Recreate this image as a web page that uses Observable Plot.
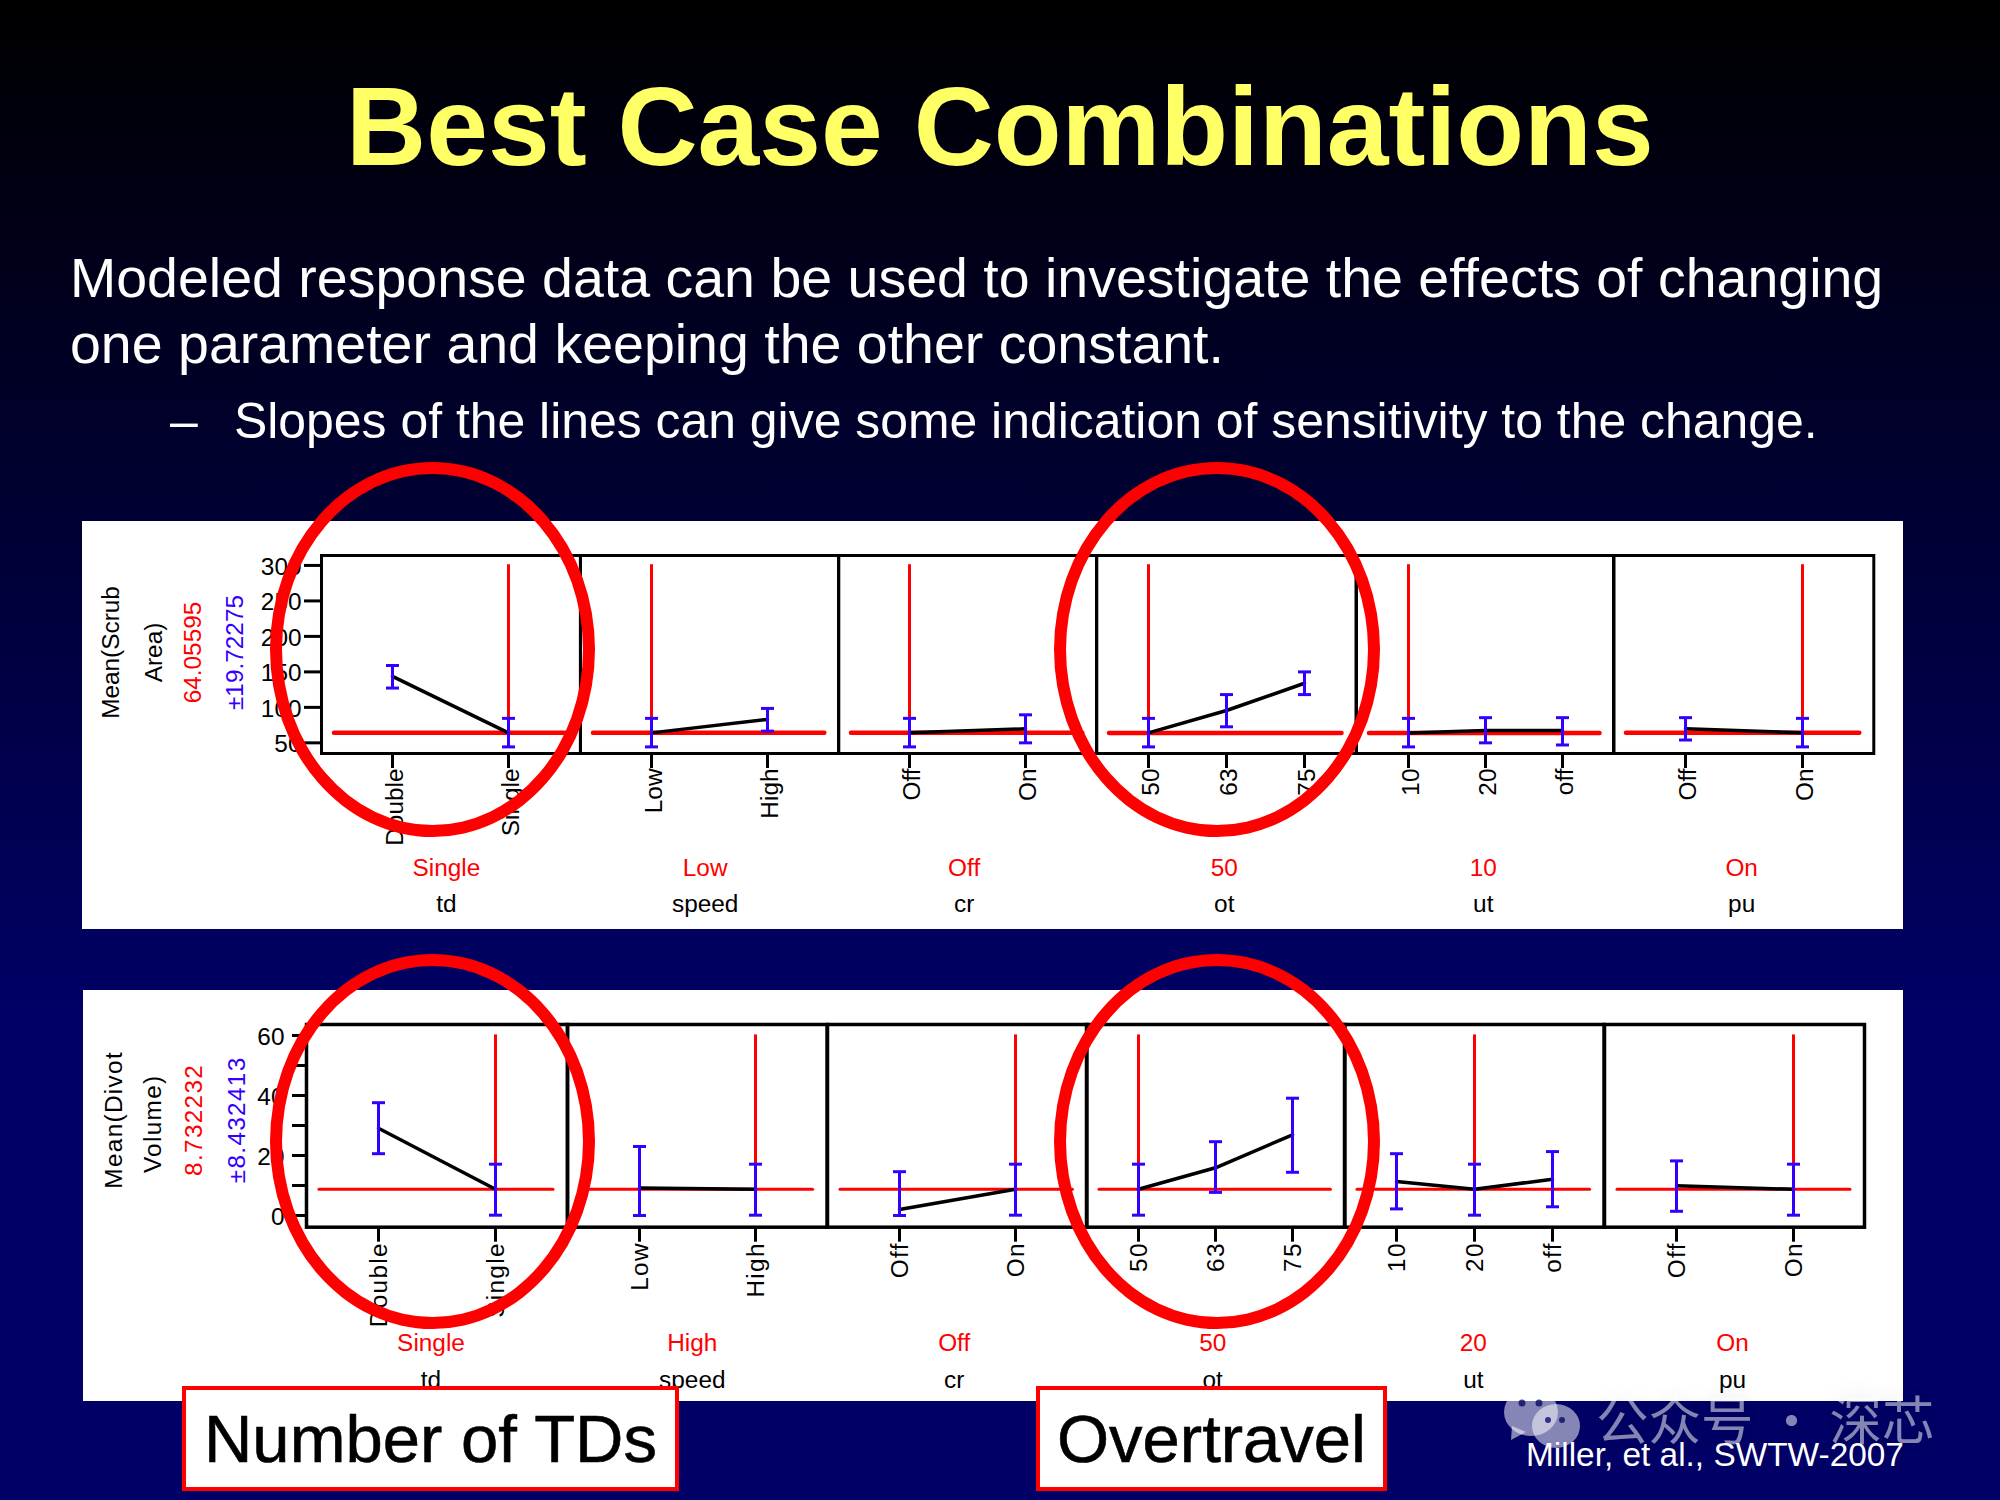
<!DOCTYPE html>
<html>
<head>
<meta charset="utf-8">
<script src="https://cdn.jsdelivr.net/npm/d3@7"></script>
<script src="https://cdn.jsdelivr.net/npm/@observablehq/plot@0.6"></script>
<style>
  html, body { margin: 0; padding: 0; background: #000; }
  #slide { position: relative; width: 2000px; height: 1500px; overflow: hidden;
    background: linear-gradient(to bottom, #000000 0%, #000066 68%, #000066 100%);
    font-family: "Liberation Sans", Arial, sans-serif; }
  .t { position: absolute; white-space: nowrap; line-height: 1; }
  .panel { position: absolute; background: #fff; }
  .ring { position: absolute; box-sizing: border-box; border: 12px solid #ff0000; border-radius: 50%; }
  .tag { position: absolute; box-sizing: border-box; background: #fff; border: 4px solid #ff0000;
    color: #000; font-size: 67px; -webkit-text-stroke: 0.6px #000; display: flex; align-items: center; justify-content: center; }
  .facet { position: absolute; }
  .facet svg { display: block; }
</style>
</head>
<body>
<div id="slide">
  <div class="t" style="left:346px;top:72px;font-size:111px;font-weight:bold;color:#ffff66">Best Case Combinations</div>
  <div class="t" style="left:70px;top:251px;font-size:55.5px;color:#fff">Modeled response data can be used to investigate the effects of changing</div>
  <div class="t" style="left:70px;top:317px;font-size:55.5px;color:#fff">one parameter and keeping the other constant.</div>
  <div class="t" style="left:170px;top:397px;font-size:49.9px;color:#fff">–</div>
  <div class="t" style="left:234px;top:397px;font-size:49.9px;color:#fff">Slopes of the lines can give some indication of sensitivity to the change.</div>
  <div class="panel" style="left:82px;top:521px;width:1821px;height:408px"></div>
  <div class="panel" style="left:83px;top:990px;width:1820px;height:411px"></div>
  <div id="charts"></div>
  <div class="ring" style="left:270px;top:462px;width:325px;height:375px"></div>
  <div class="ring" style="left:1054px;top:462px;width:326px;height:375px"></div>
  <div class="ring" style="left:270px;top:954px;width:325px;height:375px"></div>
  <div class="ring" style="left:1054px;top:954px;width:326px;height:375px"></div>
  <div class="tag" style="left:182px;top:1386px;width:497px;height:105px">Number of TDs</div>
  <div class="tag" style="left:1036px;top:1386px;width:351px;height:105px">Overtravel</div>
  <div class="t" style="left:1526px;top:1438px;font-size:33.4px;color:#fff">Miller, et al., SWTW-2007</div>
  <div class="t" style="left:1596px;top:1391px;font-size:52.5px;color:rgba(255,255,255,.52);font-family:'Noto Sans CJK SC';text-shadow:0 0 22px rgba(0,0,0,.14)">公众号 · 深芯</div>
  <svg style="position:absolute;left:1502px;top:1386px" width="82" height="66">
    <g fill="rgba(255,255,255,.52)">
      <ellipse cx="29" cy="26" rx="27" ry="24"/>
      <path d="M10 40 L9 54 L24 46 Z"/>
      <ellipse cx="54" cy="40" rx="24" ry="22"/>
    </g>
    <g fill="#000066" fill-opacity=".75">
      <circle cx="20" cy="17" r="3.5"/><circle cx="37" cy="17" r="3.5"/>
      <circle cx="46" cy="34" r="3"/><circle cx="60" cy="34" r="3"/>
    </g>
  </svg>
</div>
<script>
// Shared factor data
const factors = ["td", "speed", "cr", "ot", "ut", "pu"];
const levels = [["Double", "Single"], ["Low", "High"], ["Off", "On"], ["50", "63", "75"], ["10", "20", "off"], ["Off", "On"]];

// Scrub area
const scrubTitle = ["Mean(Scrub", "Area)"];
const scrubCenter = "64.05595";
const scrubSpread = "±19.72275";
const scrubCurrentValue = 64.06;
const scrubRuleTop = 301;
const scrubCurrent = ["Single", "Low", "Off", "50", "10", "On"];
const scrubRuleAt = ["Single", "Low", "Off", "50", "10", "On"];
const scrubMean = [[143.6, 64.06], [64.06, 83], [64.06, 69.8], [64.06, 95.6, 134], [64.06, 67.4, 67.4], [69.8, 64.06]];
const scrubLow = [[127.2, 44.3], [44.3, 66.5], [44.3, 50], [44.3, 72.6, 118], [44.3, 50, 47], [54, 44.3]];
const scrubHigh = [[159, 84.5], [84.5, 98.5], [84.5, 89.5], [84.5, 118, 150], [84.5, 85.5, 85.5], [85.5, 84.5]];
const scrubTicks = [50, 100, 150, 200, 250, 300];
const scrubLabels = [50, 100, 150, 200, 250, 300];

// Divot volume (the cr panel's rule sits on On while its caption reads Off, as in the picture)
const divotTitle = ["Mean(Divot", "Volume)"];
const divotCenter = "8.732232";
const divotSpread = "±8.432413";
const divotCurrentValue = 8.73;
const divotRuleTop = 60.2;
const divotCurrent = ["Single", "High", "Off", "50", "20", "On"];
const divotRuleAt = ["Single", "High", "On", "50", "20", "On"];
const divotMean = [[29.1, 8.73], [9.2, 8.73], [2, 8.73], [8.73, 15.9, 26.9], [11.3, 8.73, 12.1], [9.9, 8.73]];
const divotLow = [[20.6, 0.1], [0, 0.1], [0, 0.1], [0.1, 7.7, 14.4], [2.2, 0.1, 2.9], [1.4, 0.1]];
const divotHigh = [[37.6, 17.1], [23, 17.1], [14.6, 17.1], [17.1, 24.6, 39.1], [20.6, 17.1, 21.3], [18.2, 17.1]];
const divotTicks = [0, 10, 20, 30, 40, 50, 60];
const divotLabels = [0, 20, 40, 60];

// Layout of the two strips (frame edges on the slide, scale domains and text offsets)
const layoutRows = [
  {top: 555, bottom: 753, edges: [320.8, 579.7, 838, 1096.3, 1355.8, 1613.3, 1873.6], yDomain: [35, 314],
   title: scrubTitle, center: scrubCenter, spread: scrubSpread, cur: scrubCurrentValue, ruleTop: scrubRuleTop,
   current: scrubCurrent, ruleAt: scrubRuleAt, mean: scrubMean, low: scrubLow, high: scrubHigh, ticks: scrubTicks, labels: scrubLabels,
   textX: [110, 153, 192.6, 234], textDy: [-2, -2, -2, -2], redDy: 115, blackDy: 151, captionDx: [-4.5, -4.5, -3.5, -2, -2, -2],
   tickSizeY: 17, tickPadY: 3, spacing: "0px", frameW: 3, redH: 4.5, redV: 3, labelDx: 2.5},
  {top: 1024, bottom: 1226.7, edges: [306, 567, 826.6, 1086, 1344.4, 1604, 1864], yDomain: [-3.9, 63.67],
   title: divotTitle, center: divotCenter, spread: divotSpread, cur: divotCurrentValue, ruleTop: divotRuleTop,
   current: divotCurrent, ruleAt: divotRuleAt, mean: divotMean, low: divotLow, high: divotHigh, ticks: divotTicks, labels: divotLabels,
   textX: [114, 152.5, 194, 236.7], textDy: [-6, -2, -6, -6], redDy: 116, blackDy: 153, captionDx: [-6, -5, -3, -3, -1, -2],
   tickSizeY: 14, tickPadY: 8, spacing: "1.3px", frameW: 3.5, redH: 3, redV: 3, labelDx: 0.5}
];

// A horizontal bar used as the end cap of each blue interval
const capSymbol = {draw(ctx, size) { const r = Math.sqrt(size / Math.PI); ctx.moveTo(-r, 0); ctx.lineTo(r, 0); }};
// Captions below the strip have normal letter spacing
const plainSpacing = (index, scales, values, dims, ctx, next) => {
  const g = next(index, scales, values, dims, ctx);
  g.style.letterSpacing = "0px";
  return g;
};

const host = document.getElementById("charts");
layoutRows.forEach((row) => {
  factors.forEach((factor, i) => {
    const left = row.edges[i], right = row.edges[i + 1];
    const mL = i === 0 ? 310 : 4, mR = 4, mT = 4, mB = 170;
    const data = levels[i].map((level, k) => ({level, mean: row.mean[i][k], low: row.low[i][k], high: row.high[i][k]}));
    const frameH = row.bottom - row.top;
    const textColors = ["black", "black", "red", "#3300ff"];
    const sideTexts = [...row.title, row.center, row.spread];
    const marks = [
      Plot.frame({stroke: "black", strokeWidth: row.frameW}),
      Plot.ruleX([row.ruleAt[i]], {y1: row.ruleTop, y2: row.cur, stroke: "#ff0000", strokeWidth: row.redV}),
      Plot.ruleY([row.cur], {stroke: "#ff0000", strokeWidth: row.redH, insetLeft: 13, insetRight: 14, strokeLinecap: "round"}),
      Plot.line(data, {x: "level", y: "mean", stroke: "black", strokeWidth: 3.5}),
      Plot.ruleX(data, {x: "level", y1: "low", y2: "high", stroke: "#3300ff", strokeWidth: 3}),
      Plot.dot(data, {x: "level", y: "low", symbol: capSymbol, r: 6.5, stroke: "#3300ff", strokeWidth: 3, fill: "none"}),
      Plot.dot(data, {x: "level", y: "high", symbol: capSymbol, r: 6.5, stroke: "#3300ff", strokeWidth: 3, fill: "none"}),
      Plot.axisX(levels[i], {anchor: "bottom", fill: "none", tickSize: 15, strokeWidth: 3, label: null}),
      Plot.text(levels[i], {x: (d) => d, frameAnchor: "bottom", rotate: -90, textAnchor: "end", lineAnchor: "middle", dy: 15, dx: row.labelDx, fill: "black", fontSize: 24.4}),
      Plot.text([row.current[i]], {frameAnchor: "bottom", dy: row.redDy, dx: row.captionDx[i], lineAnchor: "middle", fill: "#ff0000", fontSize: 24.4, render: plainSpacing}),
      Plot.text([factor], {frameAnchor: "bottom", dy: row.blackDy, dx: row.captionDx[i], lineAnchor: "middle", fill: "black", fontSize: 24.4, render: plainSpacing})
    ];
    if (i === 0) {
      marks.push(Plot.axisY(row.ticks, {anchor: "left", fill: "none", tickSize: row.tickSizeY, strokeWidth: 3, label: null}));
      marks.push(Plot.axisY(row.labels, {anchor: "left", stroke: "none", tickSize: 0, tickPadding: row.tickSizeY + row.tickPadY, dy: 1.5, fill: "black", fontSize: 24.4, label: null, render: plainSpacing}));
      sideTexts.forEach((txt, k) => {
        marks.push(Plot.text([txt], {frameAnchor: "left", rotate: -90, dx: row.textX[k] - left, dy: row.textDy[k], lineAnchor: "middle", textAnchor: "middle", fill: textColors[k], fontSize: 24.4}));
      });
    }
    const n = levels[i].length;
    const chart = Plot.plot({
      width: right - left + mL + mR,
      height: frameH + mT + mB,
      marginLeft: mL, marginRight: mR, marginTop: mT, marginBottom: mB,
      x: {type: "point", domain: levels[i], padding: n === 2 ? 0.61 : 0.66, axis: null},
      y: {domain: row.yDomain, axis: null},
      style: {background: "transparent", overflow: "visible", maxWidth: "none", color: "black",
              fontFamily: "'Liberation Sans', Arial, sans-serif", letterSpacing: row.spacing},
      marks
    });
    const box = document.createElement("div");
    box.className = "facet";
    box.style.left = (left - mL) + "px";
    box.style.top = (row.top - mT) + "px";
    box.appendChild(chart);
    host.appendChild(box);
  });
});
</script>
</body>
</html>
